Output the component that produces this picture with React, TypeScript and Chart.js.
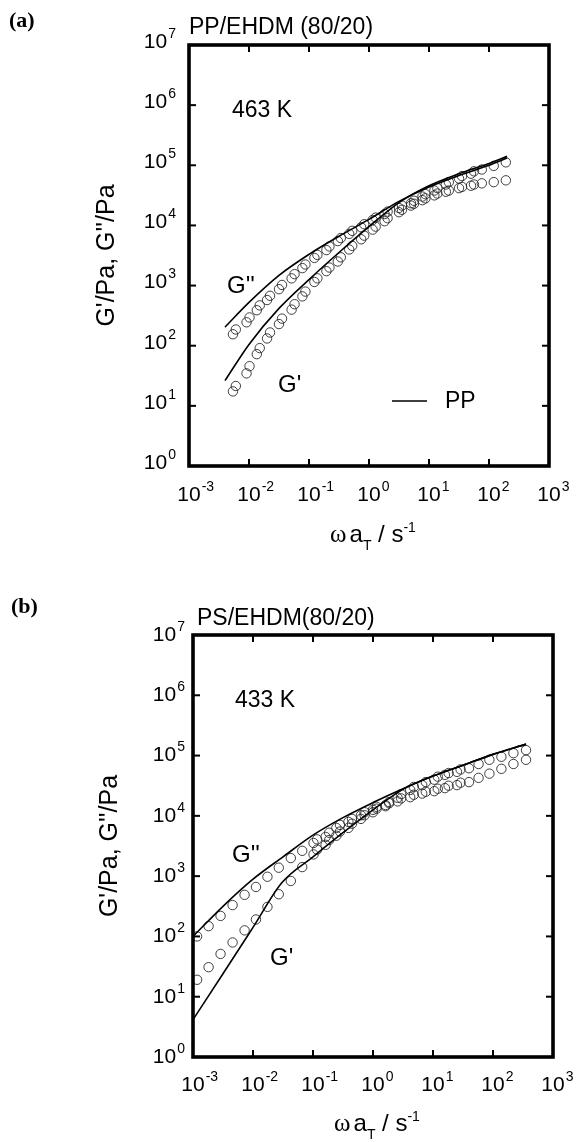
import React, { useEffect, useRef } from "react";
import { Chart, registerables } from "chart.js";

Chart.register(...registerables);

const SANS = '"Liberation Sans", Arial, Helvetica, sans-serif';
const SERIF = '"Liberation Serif", "Times New Roman", serif';

// ---- axis ticks ----
const xTickValues = [0.001, 0.01, 0.1, 1, 10, 100, 1000];
const xTickExponents = ["-3", "-2", "-1", "0", "1", "2", "3"];
const yTickValues = [1, 10, 100, 1000, 10000, 100000, 1000000, 10000000];
const yTickExponents = ["0", "1", "2", "3", "4", "5", "6", "7"];

// ---- panel (a): PP/EHDM (80/20), 463 K ----
const omegaA = [0.0054, 0.0091, 0.0135, 0.02, 0.0316, 0.0513, 0.0776, 0.123, 0.195, 0.302, 0.468, 0.741, 1.15, 1.82, 3.16, 5.01, 7.76, 12.3, 19.1, 31.6, 50.1, 75.9, 120, 191];
const gDoublePrimeA = [155, 245, 389, 575, 871, 1318, 1950, 2884, 3890, 5495, 7244, 9333, 12300, 15490, 19500, 23400, 30200, 38000, 47900, 60300, 72400, 85100, 97700, 112000];
const gPrimeA = [17.4, 34.7, 72.4, 132, 229, 398, 661, 1148, 1738, 2512, 3981, 5888, 8511, 11750, 16600, 21400, 26300, 31600, 36300, 41700, 45700, 50100, 52500, 56200];
const omegaA2 = [0.00603, 0.0102, 0.0151, 0.0224, 0.0355, 0.0575, 0.0871, 0.138, 0.219, 0.339, 0.525, 0.832, 1.29, 2.04, 3.55, 5.62, 8.71, 13.8, 21.4, 35.5, 56.2];
const gDoublePrimeA2 = [186, 295, 468, 676, 1023, 1549, 2239, 3236, 4467, 6166, 8128, 10470, 13490, 16980, 21380, 25700, 33100, 41700, 52500, 66100, 79400];
const gPrimeA2 = [21.4, 45.7, 91.2, 166, 282, 490, 794, 1318, 1995, 2951, 4571, 6761, 9550, 13180, 18200, 22900, 28200, 33900, 38000, 43700, 47900];
const omegaLineA = [0.00398, 0.01, 0.0316, 0.1, 0.316, 1, 3.16, 10, 31.6, 100, 200];
const gDoublePrimeLineA = [204, 525, 1479, 3311, 6607, 12590, 25120, 43650, 67600, 100000, 131800];
const gPrimeLineA = [26.3, 105, 417, 1259, 3548, 9550, 23990, 45710, 72440, 107200, 141300];

// ---- panel (b): PS/EHDM(80/20), 433 K ----
const omegaB = [0.00117, 0.00182, 0.00288, 0.00457, 0.00724, 0.0112, 0.0174, 0.0269, 0.0427, 0.0661, 0.102, 0.162, 0.245, 0.389, 0.631, 1.0, 1.62, 2.57, 4.17, 6.61, 10.5, 15.8, 25.1, 39.8, 57.5, 87.1, 138, 219, 355];
const gDoublePrimeB = [100, 148, 219, 331, 490, 661, 977, 1380, 1995, 2630, 3548, 4467, 6310, 7943, 10230, 12590, 15140, 19950, 26920, 32360, 39810, 47860, 53700, 61660, 72440, 85110, 95500, 109600, 123000];
const gPrimeB = [19.1, 30.9, 51.3, 79.4, 126, 191, 309, 501, 832, 1413, 2291, 3311, 4677, 6310, 8913, 11480, 14450, 17380, 20420, 23440, 25700, 28840, 32360, 36310, 42660, 50120, 60260, 72440, 85110];
const omegaB2 = [0.117, 0.186, 0.282, 0.447, 0.724, 1.15, 1.86, 2.95, 4.79, 7.59, 12.0, 18.2, 28.8];
const gDoublePrimeB2 = [4074, 5248, 7079, 8913, 11480, 14130, 16980, 22910, 30200, 36310, 44670, 51290, 58880];
const gPrimeB2 = [2754, 3981, 5495, 7413, 10230, 13180, 16220, 19500, 22390, 25120, 28180, 31620, 35480];
const omegaLineB = [0.001, 0.00316, 0.01, 0.0316, 0.1, 0.316, 1, 3.16, 10, 31.6, 100, 355];
const gDoublePrimeLineB = [100, 316, 891, 2089, 4786, 9333, 16600, 28180, 45710, 69180, 104700, 154900];
const omegaLineB1 = [0.001, 0.00316, 0.01, 0.0302, 0.1, 0.316, 1, 3.16, 10, 31.6, 100, 355];
const gPrimeLineB = [4.17, 24.0, 141, 776, 2089, 5248, 12590, 27540, 45710, 69180, 104700, 154900];

const pts = (xs: number[], ys: number[]) => xs.map((x, i) => ({ x, y: ys[i] }));

const circleDs = (label: string, xs: number[], ys: number[]) => ({
  label,
  data: pts(xs, ys),
  showLine: false,
  pointStyle: "circle",
  pointRadius: 4.7,
  pointBorderWidth: 0.9,
  pointBorderColor: "#2a2a2a",
  pointBackgroundColor: "rgba(0,0,0,0)",
  borderColor: "#2a2a2a",
  backgroundColor: "rgba(0,0,0,0)",
});

const lineDs = (label: string, xs: number[], ys: number[]) => ({
  label,
  data: pts(xs, ys),
  showLine: true,
  pointRadius: 0,
  borderWidth: 1.6,
  borderColor: "#000",
  backgroundColor: "rgba(0,0,0,0)",
  cubicInterpolationMode: "monotone",
  fill: false,
});

type Txt = { t: string; x: number; y: number; size: number; font?: string; bold?: boolean };

type PanelCfg = {
  padding: { left: number; right: number; top: number; bottom: number };
  datasets: any[];
  texts: Txt[];
  yLabelGap: number;
  yLabelDy: number;
  xLabelDy: number;
  xTitleBaseline: number;
  xTitleDx: number;
  yTitleX: number;
  legend?: { x1: number; x2: number; y: number; label: string };
};

function drawXTitle(ctx: CanvasRenderingContext2D, cx: number, base: number) {
  const parts = [
    { t: "ω", f: `25px ${SERIF}`, dy: 0, gap: 3 },
    { t: "a", f: `24px ${SANS}`, dy: 0, gap: 0 },
    { t: "T", f: `14px ${SANS}`, dy: 8, gap: 0 },
    { t: " / s", f: `24px ${SANS}`, dy: 0, gap: 0 },
    { t: "-1", f: `14px ${SANS}`, dy: -10, gap: 0 },
  ];
  let total = 0;
  const widths = parts.map((p) => {
    ctx.font = p.f;
    const w = ctx.measureText(p.t).width + p.gap;
    total += w;
    return w;
  });
  let x = cx - total / 2;
  ctx.textAlign = "left";
  ctx.textBaseline = "alphabetic";
  parts.forEach((p, i) => {
    ctx.font = p.f;
    ctx.fillText(p.t, x, base + p.dy);
    x += widths[i];
  });
}

function makeDecor(cfg: PanelCfg) {
  return {
    id: "decor",
    afterDraw(chart: any) {
      const ctx: CanvasRenderingContext2D = chart.ctx;
      const { left, right, top, bottom } = chart.chartArea;
      const xs = chart.scales.x;
      const ys = chart.scales.y;
      ctx.save();
      ctx.strokeStyle = "#000";
      ctx.fillStyle = "#000";
      // inward ticks
      ctx.lineWidth = 2;
      const seg = (a: number, b: number, c: number, d: number) => {
        ctx.beginPath();
        ctx.moveTo(a, b);
        ctx.lineTo(c, d);
        ctx.stroke();
      };
      xTickValues.forEach((v) => {
        const x = xs.getPixelForValue(v);
        seg(x, bottom, x, bottom - 7);
        seg(x, top, x, top + 7);
      });
      yTickValues.forEach((v) => {
        const y = ys.getPixelForValue(v);
        seg(left, y, left + 7, y);
        seg(right, y, right - 7, y);
      });
      // frame
      ctx.lineWidth = 3.6;
      ctx.strokeRect(left, top, right - left, bottom - top);

      // x tick labels
      xTickValues.forEach((v, i) => {
        const x = xs.getPixelForValue(v);
        const cy = bottom + cfg.xLabelDy;
        ctx.font = `21px ${SANS}`;
        ctx.textAlign = "center";
        ctx.textBaseline = "middle";
        ctx.fillText("10", x, cy);
        const w = ctx.measureText("10").width;
        ctx.font = `14px ${SANS}`;
        ctx.textAlign = "left";
        ctx.fillText(xTickExponents[i], x + w / 2 + 1, cy - 8);
      });
      // y tick labels
      yTickValues.forEach((v, i) => {
        const y = ys.getPixelForValue(v) + cfg.yLabelDy;
        ctx.font = `14px ${SANS}`;
        const ew = ctx.measureText(yTickExponents[i]).width;
        const xr = left - cfg.yLabelGap;
        ctx.textBaseline = "middle";
        ctx.textAlign = "right";
        ctx.fillText(yTickExponents[i], xr, y - 8);
        ctx.font = `21px ${SANS}`;
        ctx.fillText("10", xr - ew - 1, y);
      });

      // axis titles
      drawXTitle(ctx, (left + right) / 2 + cfg.xTitleDx, cfg.xTitleBaseline);
      ctx.save();
      ctx.translate(cfg.yTitleX, (top + bottom) / 2);
      ctx.rotate(-Math.PI / 2);
      ctx.font = `25px ${SANS}`;
      ctx.textAlign = "center";
      ctx.textBaseline = "middle";
      ctx.fillText("G'/Pa, G''/Pa", 0, 0);
      ctx.restore();

      // free texts
      cfg.texts.forEach((t) => {
        ctx.font = `${t.bold ? "bold " : ""}${t.size}px ${t.font || SANS}`;
        ctx.textAlign = "left";
        ctx.textBaseline = "alphabetic";
        ctx.fillText(t.t, t.x, t.y);
      });

      // legend
      if (cfg.legend) {
        ctx.lineWidth = 1.6;
        seg(cfg.legend.x1, cfg.legend.y, cfg.legend.x2, cfg.legend.y);
        ctx.font = `23px ${SANS}`;
        ctx.textAlign = "left";
        ctx.textBaseline = "middle";
        ctx.fillText(cfg.legend.label, cfg.legend.x2 + 18, cfg.legend.y + 1);
      }
      ctx.restore();
    },
  };
}

const panelA: PanelCfg = {
  padding: { left: 189, right: 27, top: 45, bottom: 105 },
  datasets: [
    lineDs("PP G''", omegaLineA, gDoublePrimeLineA),
    lineDs("PP G'", omegaLineA, gPrimeLineA),
    circleDs("G''", omegaA, gDoublePrimeA),
    circleDs("G'", omegaA, gPrimeA),
    circleDs("G'' (2)", omegaA2, gDoublePrimeA2),
    circleDs("G' (2)", omegaA2, gPrimeA2),
  ],
  texts: [
    { t: "(a)", x: 9, y: 27, size: 22, font: SERIF, bold: true },
    { t: "PP/EHDM (80/20)", x: 189, y: 34, size: 23 },
    { t: "463 K", x: 232, y: 117, size: 23 },
    { t: "G''", x: 227, y: 293, size: 24 },
    { t: "G'", x: 278, y: 392, size: 24 },
  ],
  yLabelGap: 13,
  yLabelDy: -3,
  xLabelDy: 29,
  xTitleBaseline: 542,
  xTitleDx: 4,
  yTitleX: 107,
  legend: { x1: 392, x2: 427, y: 401, label: "PP" },
};

const panelB: PanelCfg = {
  padding: { left: 193, right: 23, top: 64, bottom: 85 },
  datasets: [
    lineDs("PS G''", omegaLineB, gDoublePrimeLineB),
    lineDs("PS G'", omegaLineB1, gPrimeLineB),
    circleDs("G''", omegaB, gDoublePrimeB),
    circleDs("G'", omegaB, gPrimeB),
    circleDs("G'' (2)", omegaB2, gDoublePrimeB2),
    circleDs("G' (2)", omegaB2, gPrimeB2),
  ],
  texts: [
    { t: "(b)", x: 11, y: 42, size: 22, font: SERIF, bold: true },
    { t: "PS/EHDM(80/20)", x: 197, y: 54, size: 23 },
    { t: "433 K", x: 235, y: 136, size: 23 },
    { t: "G''", x: 232, y: 291, size: 24 },
    { t: "G'", x: 270, y: 394, size: 24 },
  ],
  yLabelGap: 8,
  yLabelDy: 0,
  xLabelDy: 28,
  xTitleBaseline: 560,
  xTitleDx: 4,
  yTitleX: 110,
};

function Panel({ cfg, top }: { cfg: PanelCfg; top: number }) {
  const ref = useRef<HTMLCanvasElement | null>(null);
  useEffect(() => {
    if (!ref.current) return;
    const chart = new Chart(ref.current, {
      type: "scatter",
      data: { datasets: cfg.datasets },
      options: {
        animation: false,
        responsive: false,
        devicePixelRatio: 1,
        layout: { padding: cfg.padding },
        plugins: {
          legend: { display: false },
          tooltip: { enabled: false },
          title: { display: false },
        },
        scales: {
          x: { type: "logarithmic", min: 0.001, max: 1000, display: false },
          y: { type: "logarithmic", min: 1, max: 10000000, display: false },
        },
      } as any,
      plugins: [makeDecor(cfg)],
    } as any);
    return () => chart.destroy();
  }, [cfg]);
  return (
    <canvas
      ref={ref}
      width={576}
      height={571}
      style={{ position: "absolute", left: 0, top, width: 576, height: 571, display: "block" }}
    />
  );
}

export default function App() {
  return (
    <div style={{ position: "absolute", left: 0, top: 0, width: 576, height: 1142, background: "#fff", overflow: "hidden" }}>
      <Panel cfg={panelA} top={0} />
      <Panel cfg={panelB} top={571} />
    </div>
  );
}
